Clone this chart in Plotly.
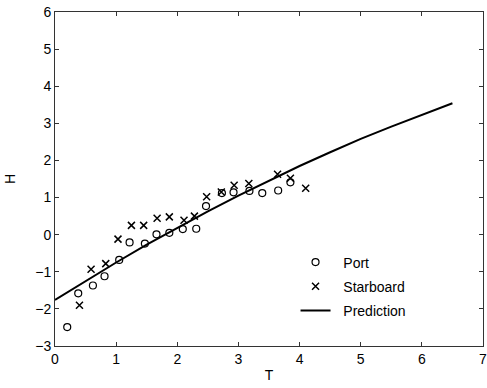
import plotly.graph_objects as go

# Port (circles)
port_T = [0.20, 0.38, 0.62, 0.81, 1.05, 1.22, 1.47, 1.66, 1.87, 2.09, 2.31, 2.47, 2.73, 2.92, 3.18, 3.39, 3.65, 3.85]
port_H = [-2.49, -1.58, -1.37, -1.12, -0.68, -0.21, -0.24, 0.01, 0.05, 0.15, 0.16, 0.77, 1.12, 1.14, 1.18, 1.12, 1.19, 1.41]

# Starboard (crosses)
star_T = [0.40, 0.59, 0.83, 1.03, 1.25, 1.45, 1.67, 1.87, 2.11, 2.28, 2.48, 2.72, 2.93, 3.17, 3.64, 3.85, 4.10]
star_H = [-1.90, -0.93, -0.78, -0.12, 0.25, 0.25, 0.44, 0.48, 0.39, 0.50, 1.02, 1.15, 1.33, 1.38, 1.63, 1.52, 1.25]

# Prediction line (read at regular T)
pred_T = [0.0, 0.5, 1.0, 1.5, 2.0, 2.5, 3.0, 3.5, 4.0, 4.5, 5.0, 5.5, 6.0, 6.5]
pred_H = [-1.76, -1.25, -0.75, -0.27, 0.19, 0.63, 1.05, 1.46, 1.85, 2.22, 2.58, 2.91, 3.23, 3.54]

x_ticks = [0, 1, 2, 3, 4, 5, 6, 7]
y_ticks = [-3, -2, -1, 0, 1, 2, 3, 4, 5, 6]

FONT = "Liberation Sans, Arial, Helvetica, sans-serif"
PAD = "\u00a0\u00a0"

fig = go.Figure()
fig.add_trace(go.Scatter(
    x=port_T, y=port_H, mode="markers", name=PAD + "Port", legendgroup="a",
    marker=dict(symbol="circle-open", size=7, color="black", line=dict(width=1.2, color="black")),
))
fig.add_trace(go.Scatter(
    x=star_T, y=star_H, mode="markers", name=PAD + "Starboard", legendgroup="b",
    marker=dict(symbol="x-thin-open", size=7, color="black", line=dict(width=1.5, color="black")),
))
fig.add_trace(go.Scatter(
    x=pred_T, y=pred_H, mode="lines", name=PAD + "Prediction", legendgroup="c",
    line=dict(color="black", width=2),
))

axis_common = dict(
    showgrid=False, zeroline=False, showline=True, linecolor="#333333", linewidth=1,
    mirror="ticks", ticks="inside", ticklen=4, tickcolor="#333333", tickwidth=1,
    tickfont=dict(family=FONT, size=14, color="black"),
    ticklabeloverflow="allow", automargin=False,
)

fig.update_layout(
    width=487, height=388,
    margin=dict(l=55, r=4, t=12, b=42),
    paper_bgcolor="white", plot_bgcolor="white",
    font=dict(family=FONT, size=14, color="black"),
    showlegend=True,
    legend=dict(
        x=0.562, y=0.298, xanchor="left", yanchor="top",
        bgcolor="rgba(0,0,0,0)", borderwidth=0,
        font=dict(family=FONT, size=14, color="black"),
        tracegroupgap=3, traceorder="grouped",
    ),
    xaxis=dict(range=[0, 7], tickvals=x_ticks, title=dict(text="T", standoff=4, font=dict(size=14)), **axis_common),
    yaxis=dict(range=[-3, 6], tickvals=y_ticks, title=dict(text="H", standoff=16, font=dict(size=14)), **axis_common),
)

fig.write_html("out.html")
